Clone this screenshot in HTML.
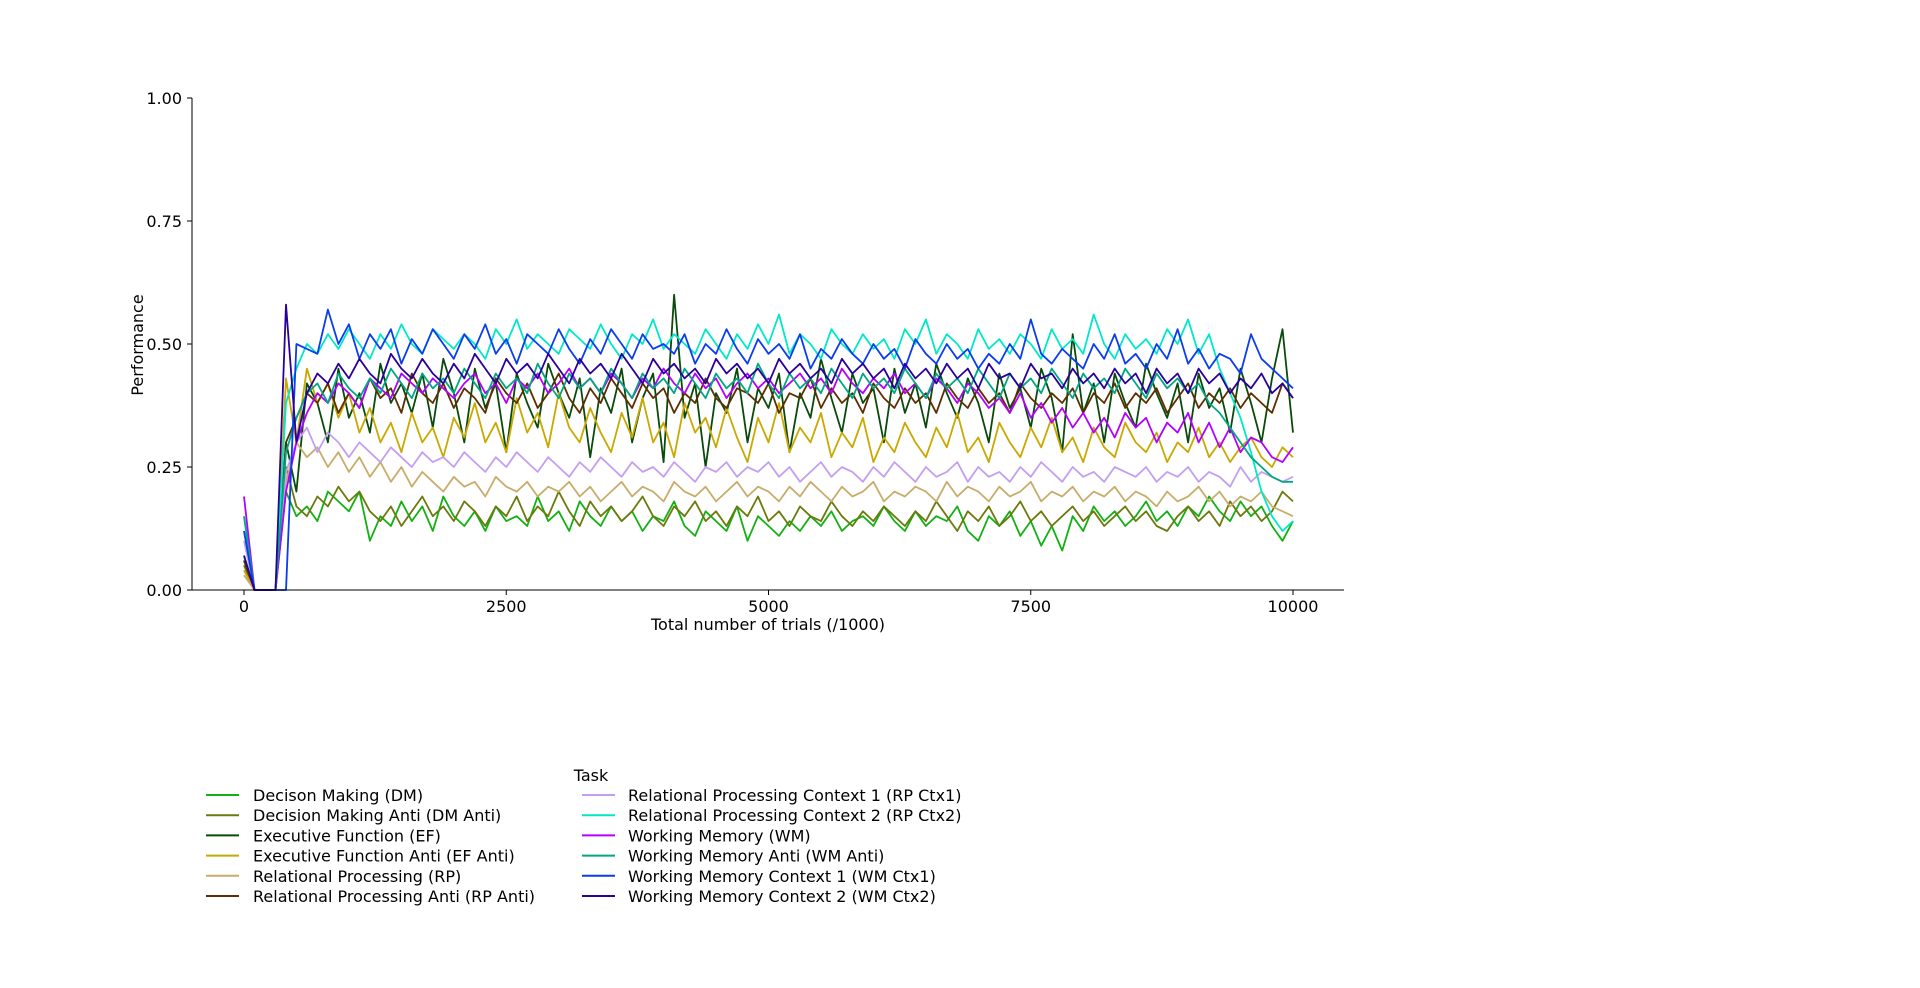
<!DOCTYPE html>
<html><head><meta charset="utf-8"><style>
html,body{margin:0;padding:0;background:#fff;}
svg text{font-family:"DejaVu Sans","Liberation Sans",sans-serif;fill:#000;}
</style></head><body>
<svg id="chart" width="1920" height="983" viewBox="0 0 1920 983" xmlns="http://www.w3.org/2000/svg">
<g id="lines"></g>
<g id="axes"></g>
<g id="legend"></g>
</svg>
<script>
const names=["Decison Making (DM)","Decision Making Anti (DM Anti)","Executive Function (EF)","Executive Function Anti (EF Anti)","Relational Processing (RP)","Relational Processing Anti (RP Anti)","Relational Processing Context 1 (RP Ctx1)","Relational Processing Context 2 (RP Ctx2)","Working Memory (WM)","Working Memory Anti (WM Anti)","Working Memory Context 1 (WM Ctx1)","Working Memory Context 2 (WM Ctx2)"];
const colors=["#12b012","#6b7a0b","#0a4a0a","#c9a800","#c8ad6a","#5c2e00","#c49ff0","#00e8c8","#b300ff","#00a882","#0a3cf0","#2a0099"];
const xTicks=[0,2500,5000,7500,10000];
const yTicks=[0,0.25,0.5,0.75,1];
const sDM=[0.07,0,0,0,0.2,0.15,0.17,0.14,0.2,0.18,0.16,0.2,0.1,0.15,0.13,0.18,0.14,0.17,0.12,0.19,0.15,0.13,0.16,0.12,0.17,0.14,0.15,0.13,0.19,0.14,0.16,0.12,0.18,0.15,0.13,0.17,0.14,0.16,0.12,0.15,0.14,0.18,0.13,0.11,0.16,0.14,0.12,0.17,0.1,0.15,0.13,0.11,0.14,0.12,0.15,0.13,0.16,0.12,0.14,0.15,0.13,0.17,0.14,0.12,0.16,0.13,0.15,0.14,0.17,0.12,0.1,0.15,0.13,0.16,0.11,0.14,0.09,0.13,0.08,0.15,0.12,0.17,0.14,0.16,0.13,0.15,0.18,0.14,0.16,0.13,0.17,0.15,0.19,0.16,0.14,0.18,0.15,0.17,0.13,0.1,0.14];
const sDMA=[0.05,0,0,0,0.25,0.17,0.15,0.19,0.17,0.21,0.18,0.2,0.16,0.14,0.17,0.13,0.16,0.19,0.15,0.17,0.14,0.18,0.16,0.13,0.17,0.15,0.19,0.14,0.17,0.15,0.2,0.16,0.13,0.18,0.15,0.17,0.14,0.16,0.19,0.15,0.13,0.17,0.15,0.18,0.14,0.16,0.13,0.17,0.15,0.19,0.14,0.16,0.13,0.17,0.15,0.14,0.18,0.15,0.13,0.16,0.14,0.17,0.15,0.13,0.16,0.14,0.18,0.15,0.12,0.16,0.14,0.17,0.13,0.15,0.18,0.14,0.16,0.13,0.15,0.17,0.14,0.16,0.13,0.15,0.17,0.14,0.16,0.13,0.12,0.15,0.17,0.14,0.16,0.13,0.18,0.15,0.17,0.14,0.16,0.2,0.18];
const sEF=[0.06,0,0,0,0.3,0.2,0.42,0.38,0.3,0.45,0.35,0.4,0.32,0.46,0.38,0.42,0.36,0.44,0.33,0.47,0.4,0.3,0.45,0.37,0.42,0.28,0.44,0.38,0.33,0.46,0.4,0.35,0.43,0.27,0.41,0.36,0.45,0.3,0.39,0.44,0.26,0.6,0.35,0.42,0.25,0.4,0.36,0.45,0.3,0.41,0.37,0.44,0.28,0.4,0.35,0.47,0.39,0.32,0.44,0.38,0.41,0.3,0.45,0.36,0.42,0.33,0.46,0.4,0.35,0.43,0.38,0.3,0.44,0.37,0.41,0.33,0.45,0.39,0.28,0.52,0.36,0.42,0.3,0.44,0.38,0.33,0.46,0.4,0.35,0.42,0.3,0.44,0.37,0.41,0.32,0.45,0.38,0.3,0.43,0.53,0.32];
const sEFA=[0.04,0,0,0,0.43,0.3,0.45,0.38,0.42,0.35,0.4,0.32,0.37,0.3,0.34,0.28,0.36,0.3,0.33,0.27,0.35,0.31,0.38,0.3,0.34,0.28,0.39,0.32,0.36,0.29,0.4,0.33,0.3,0.37,0.32,0.28,0.36,0.31,0.39,0.3,0.34,0.27,0.38,0.32,0.35,0.29,0.37,0.31,0.26,0.35,0.3,0.38,0.28,0.33,0.3,0.36,0.27,0.32,0.29,0.35,0.26,0.31,0.28,0.34,0.3,0.27,0.33,0.29,0.36,0.28,0.31,0.26,0.34,0.3,0.27,0.33,0.29,0.35,0.28,0.31,0.26,0.33,0.29,0.27,0.34,0.3,0.28,0.32,0.26,0.3,0.28,0.33,0.27,0.3,0.26,0.29,0.31,0.27,0.25,0.29,0.27];
const sRP=[0.03,0,0,0,0.22,0.3,0.27,0.29,0.25,0.28,0.24,0.27,0.23,0.26,0.22,0.25,0.21,0.24,0.22,0.2,0.23,0.21,0.22,0.19,0.23,0.21,0.2,0.22,0.19,0.21,0.2,0.22,0.19,0.21,0.18,0.2,0.22,0.19,0.21,0.2,0.18,0.22,0.2,0.19,0.21,0.18,0.2,0.22,0.19,0.21,0.2,0.18,0.21,0.19,0.22,0.2,0.18,0.21,0.19,0.2,0.22,0.18,0.2,0.19,0.21,0.2,0.18,0.22,0.19,0.21,0.2,0.18,0.21,0.19,0.2,0.22,0.18,0.2,0.19,0.21,0.18,0.2,0.19,0.21,0.18,0.2,0.19,0.17,0.2,0.18,0.19,0.21,0.18,0.2,0.17,0.19,0.18,0.2,0.17,0.16,0.15];
const sRPA=[0.06,0,0,0,0.3,0.35,0.4,0.38,0.42,0.36,0.4,0.37,0.43,0.39,0.41,0.36,0.44,0.4,0.38,0.42,0.37,0.41,0.39,0.36,0.43,0.4,0.38,0.42,0.37,0.4,0.44,0.39,0.36,0.41,0.38,0.43,0.4,0.37,0.42,0.39,0.41,0.36,0.4,0.38,0.43,0.39,0.37,0.41,0.4,0.38,0.42,0.36,0.4,0.39,0.43,0.37,0.41,0.38,0.4,0.36,0.42,0.39,0.37,0.41,0.38,0.4,0.36,0.42,0.39,0.37,0.41,0.38,0.4,0.36,0.42,0.39,0.37,0.4,0.38,0.41,0.36,0.4,0.38,0.42,0.37,0.4,0.38,0.41,0.36,0.39,0.42,0.37,0.4,0.38,0.41,0.37,0.4,0.38,0.36,0.42,0.39];
const sRPC1=[0.1,0,0,0,0.24,0.3,0.33,0.28,0.32,0.3,0.27,0.3,0.28,0.26,0.29,0.27,0.25,0.28,0.26,0.27,0.25,0.28,0.26,0.24,0.27,0.25,0.28,0.26,0.24,0.27,0.25,0.23,0.26,0.24,0.27,0.25,0.23,0.26,0.24,0.25,0.23,0.26,0.24,0.22,0.25,0.24,0.26,0.23,0.25,0.24,0.26,0.23,0.25,0.22,0.24,0.26,0.23,0.25,0.24,0.22,0.25,0.23,0.26,0.24,0.22,0.25,0.23,0.24,0.26,0.22,0.25,0.23,0.24,0.22,0.25,0.23,0.26,0.24,0.22,0.25,0.23,0.24,0.22,0.25,0.24,0.23,0.25,0.22,0.24,0.23,0.25,0.22,0.24,0.23,0.21,0.25,0.22,0.24,0.23,0.22,0.23];
const sRPC2=[0.12,0,0,0,0.38,0.45,0.5,0.48,0.52,0.49,0.53,0.5,0.47,0.52,0.49,0.54,0.5,0.48,0.53,0.51,0.49,0.52,0.5,0.47,0.53,0.5,0.55,0.49,0.52,0.5,0.48,0.53,0.51,0.49,0.54,0.5,0.47,0.52,0.5,0.55,0.49,0.52,0.5,0.48,0.53,0.5,0.47,0.52,0.49,0.54,0.5,0.56,0.48,0.52,0.5,0.47,0.53,0.5,0.48,0.52,0.49,0.51,0.47,0.53,0.5,0.55,0.48,0.52,0.5,0.47,0.53,0.49,0.51,0.48,0.52,0.5,0.47,0.53,0.49,0.51,0.48,0.56,0.5,0.47,0.52,0.49,0.51,0.48,0.53,0.5,0.55,0.48,0.52,0.45,0.4,0.35,0.28,0.2,0.15,0.12,0.14];
const sWM=[0.19,0,0,0,0.2,0.3,0.36,0.4,0.38,0.42,0.4,0.37,0.43,0.41,0.39,0.44,0.42,0.4,0.43,0.41,0.39,0.42,0.44,0.4,0.42,0.38,0.43,0.41,0.44,0.4,0.42,0.45,0.41,0.43,0.4,0.44,0.42,0.39,0.43,0.41,0.45,0.42,0.4,0.44,0.41,0.43,0.39,0.42,0.44,0.41,0.43,0.4,0.42,0.44,0.41,0.43,0.4,0.45,0.42,0.4,0.43,0.41,0.44,0.4,0.42,0.39,0.43,0.41,0.38,0.42,0.4,0.37,0.39,0.36,0.4,0.35,0.38,0.34,0.37,0.33,0.36,0.32,0.35,0.31,0.36,0.33,0.35,0.3,0.34,0.32,0.36,0.3,0.34,0.29,0.33,0.28,0.31,0.3,0.27,0.26,0.29];
const sWMA=[0.15,0,0,0,0.28,0.35,0.4,0.42,0.38,0.44,0.41,0.39,0.43,0.4,0.45,0.42,0.39,0.44,0.41,0.43,0.4,0.45,0.42,0.39,0.44,0.41,0.43,0.4,0.46,0.42,0.39,0.44,0.41,0.43,0.4,0.45,0.42,0.39,0.44,0.41,0.43,0.4,0.45,0.42,0.39,0.44,0.41,0.43,0.4,0.46,0.42,0.39,0.44,0.41,0.43,0.4,0.45,0.42,0.39,0.44,0.41,0.43,0.4,0.45,0.42,0.39,0.44,0.41,0.43,0.4,0.45,0.42,0.39,0.44,0.41,0.43,0.4,0.45,0.42,0.39,0.44,0.41,0.43,0.4,0.45,0.42,0.39,0.44,0.41,0.43,0.4,0.42,0.38,0.36,0.33,0.3,0.27,0.25,0.23,0.22,0.22];
const sWMC1=[0.12,0,0,0,0,0.5,0.49,0.48,0.57,0.5,0.54,0.47,0.52,0.49,0.53,0.46,0.51,0.48,0.53,0.5,0.47,0.52,0.49,0.54,0.48,0.51,0.46,0.52,0.5,0.48,0.53,0.49,0.46,0.51,0.48,0.53,0.5,0.47,0.52,0.49,0.5,0.48,0.52,0.46,0.5,0.48,0.53,0.49,0.46,0.51,0.48,0.5,0.47,0.52,0.45,0.49,0.47,0.51,0.48,0.46,0.5,0.47,0.49,0.45,0.51,0.48,0.46,0.5,0.47,0.49,0.45,0.48,0.46,0.5,0.47,0.55,0.48,0.46,0.49,0.47,0.45,0.5,0.47,0.52,0.46,0.48,0.45,0.5,0.47,0.53,0.46,0.49,0.45,0.48,0.47,0.44,0.52,0.47,0.45,0.43,0.41];
const sWMC2=[0.07,0,0,0,0.58,0.3,0.4,0.44,0.42,0.46,0.43,0.47,0.44,0.42,0.48,0.45,0.43,0.47,0.44,0.42,0.46,0.43,0.48,0.45,0.42,0.47,0.44,0.46,0.43,0.48,0.45,0.42,0.47,0.44,0.46,0.43,0.48,0.45,0.42,0.47,0.44,0.46,0.43,0.45,0.42,0.47,0.44,0.46,0.43,0.45,0.42,0.47,0.44,0.46,0.43,0.45,0.42,0.47,0.44,0.46,0.43,0.45,0.41,0.46,0.43,0.45,0.42,0.46,0.43,0.45,0.41,0.46,0.43,0.44,0.41,0.46,0.43,0.44,0.41,0.45,0.42,0.44,0.41,0.45,0.42,0.44,0.4,0.45,0.42,0.44,0.4,0.45,0.42,0.44,0.4,0.43,0.41,0.44,0.4,0.42,0.39];
const series=[sDM,sDMA,sEF,sEFA,sRP,sRPA,sRPC1,sRPC2,sWM,sWMA,sWMC1,sWMC2];
const slugs=["dm","dm-anti","ef","ef-anti","rp","rp-anti","rp-ctx1","rp-ctx2","wm","wm-anti","wm-ctx1","wm-ctx2"];

const NS="http://www.w3.org/2000/svg";
const X0=244,X1=1293,Y0=590,Y1=98;
function xs(v){return X0+(v/10000)*(X1-X0);}
function ys(v){return Y0-v*(Y0-Y1);}
function mk(t,a,p){const e=document.createElementNS(NS,t);for(const k in a)e.setAttribute(k,a[k]);p.appendChild(e);return e;}

const gl=document.getElementById('lines');
series.forEach((s,si)=>{
  const n=s.length;
  const pts=s.map((v,i)=>xs(i*10000/(n-1)).toFixed(1)+","+ys(v).toFixed(1)).join(" ");
  const pl=mk('polyline',{points:pts,fill:'none',stroke:colors[si],'stroke-width':1.8,'stroke-linejoin':'round'},gl);
  
  
});

const ga=document.getElementById('axes');
const ls=mk('line',{x1:192,y1:Y1,x2:192,y2:Y0+0.5,stroke:'#000','stroke-width':1},ga);


const bs=mk('line',{x1:192,y1:Y0,x2:1344,y2:Y0,stroke:'#000','stroke-width':1},ga);


xTicks.forEach(t=>{
  mk('line',{x1:xs(t),y1:Y0,x2:xs(t),y2:Y0+5,stroke:'#000'},ga);
  const tx=mk('text',{x:xs(t),y:Y0+22,'text-anchor':'middle','font-size':16},ga);
  tx.textContent=t;
  
  
});
yTicks.forEach(t=>{
  mk('line',{x1:187,y1:ys(t),x2:192,y2:ys(t),stroke:'#000'},ga);
  const tx=mk('text',{x:182,y:ys(t)+6,'text-anchor':'end','font-size':16},ga);
  tx.textContent=t.toFixed(2);
  
  
});
const xt=mk('text',{x:768,y:630,'text-anchor':'middle','font-size':16},ga);
xt.textContent="Total number of trials (/1000)";


const yt=mk('text',{x:0,y:0,'text-anchor':'middle','font-size':16,transform:'translate(143,345) rotate(-90)'},ga);
yt.textContent="Performance";



const lg=document.getElementById('legend');
const lt=mk('text',{x:591,y:781,'text-anchor':'middle','font-size':16},lg);
lt.textContent="Task";


names.forEach((nm,i)=>{
  const col=i<6?0:1,row=i%6;
  const lx=col?582:206, ty=col?628:253, y=795+row*20.2;
  const g=mk('g',{},lg);
  
  
  mk('line',{x1:lx,y1:y,x2:lx+33,y2:y,stroke:colors[i],'stroke-width':2},g);
  const t=mk('text',{x:ty,y:y+6,'font-size':16},g);
  t.textContent=nm;
});
</script>
</body></html>
